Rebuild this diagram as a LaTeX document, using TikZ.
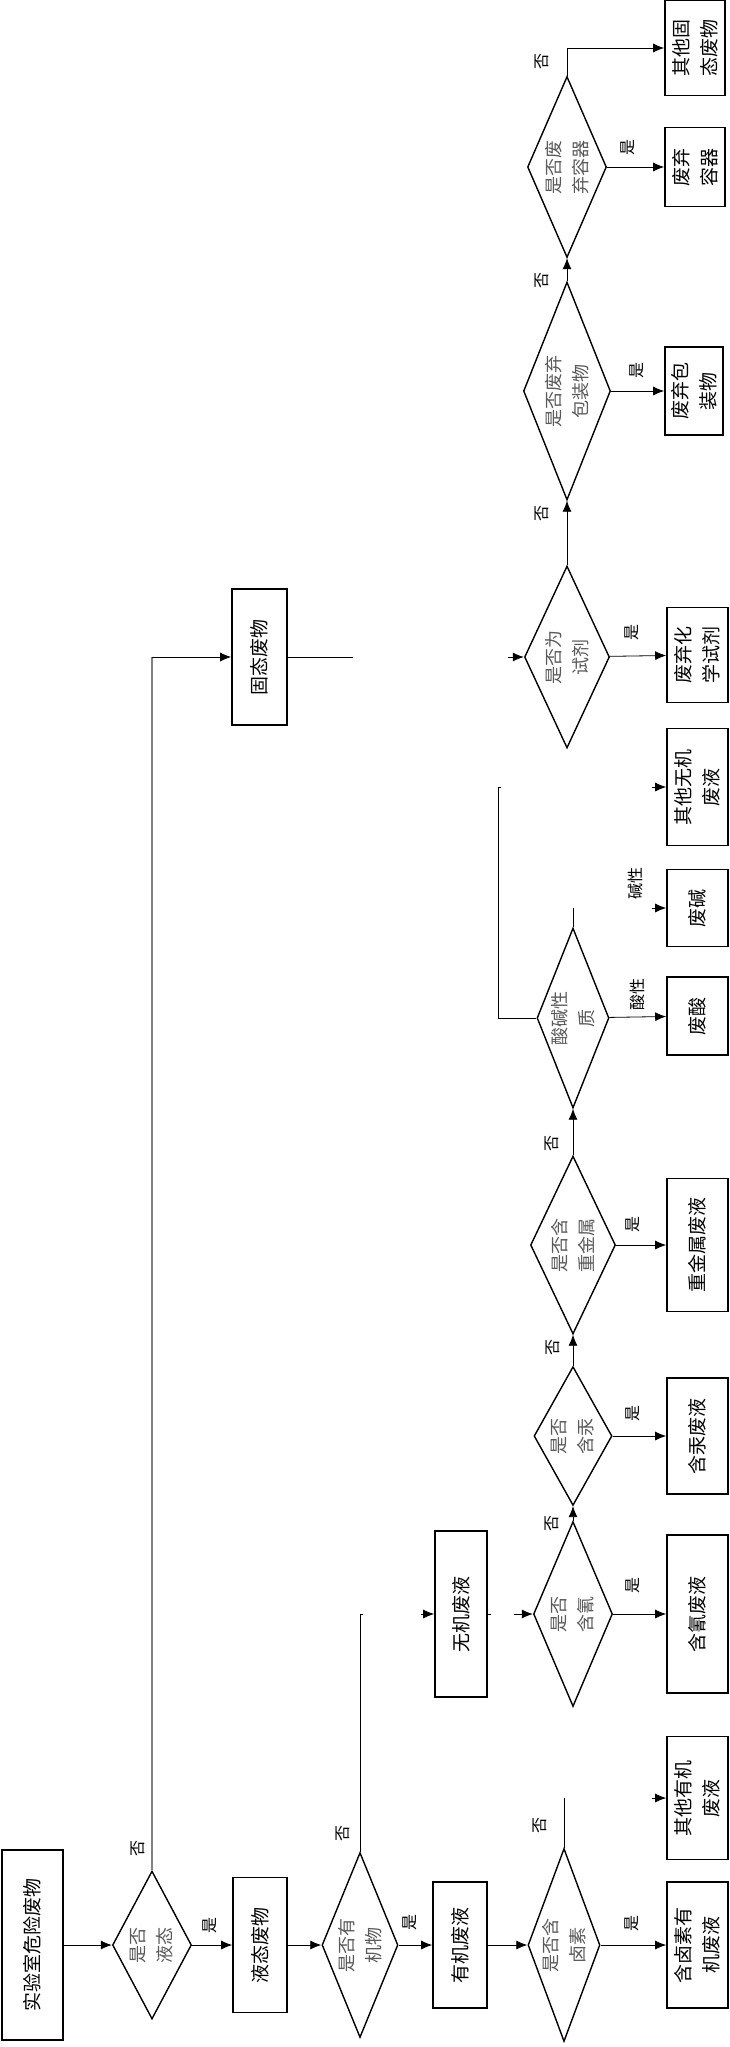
\documentclass[tikz,border=0pt]{standalone}
\usepackage{fontspec}
\newfontfamily\cjk{Noto Sans CJK SC}
\usetikzlibrary{calc}
\usetikzlibrary{shapes.geometric}
\usetikzlibrary{arrows.meta}
\tikzset{every picture/.style={/utils/exec={\cjk}}}
\tikzset{
  box/.style={draw, line width=1.6pt, rotate=90, inner sep=0pt, align=center,
    font=\cjk\fontsize{19}{28}\selectfont},
  decide/.style={draw, diamond, aspect=2.4, line width=1.4pt, rotate=90, inner sep=0pt,
    align=center, text=black!65, font=\cjk\fontsize{18}{27}\selectfont},
  flow/.style={-{Latex[length=11pt,width=9pt]}, line width=0.8pt},
  plain/.style={line width=0.8pt},
  yesno/.style={rotate=90, inner sep=0pt, font=\cjk\fontsize{16}{16}\selectfont}
}

\begin{document}
\begin{tikzpicture}[x=1pt, y=-1pt]
  \useasboundingbox (0,0) rectangle (730,2047);

  % start and liquid branch
  \node [box, minimum width=190pt, minimum height=61pt] (waste) at (32.5,1945) {实验室危险废物};
  \node [decide, minimum width=148pt, minimum height=79pt] (isliq) at (152,1945) {是否\\液态};
  \node [box, minimum width=135pt, minimum height=54pt] (liquid) at (260,1945) {液态废物};
  \node [decide, minimum width=185pt, minimum height=76pt] (isorg) at (360,1945) {是否有\\机物};
  \node [box, minimum width=126pt, minimum height=54pt] (organic) at (460,1945) {有机废液};
  \node [decide, minimum width=193pt, minimum height=72pt] (ishal) at (564,1945) {是否含\\卤素};
  \node [box, minimum width=126pt, minimum height=61pt] (halorg) at (697.5,1945) {含卤素有\\机废液};
  \node [box, minimum width=123pt, minimum height=61pt] (othorg) at (697.5,1798) {其他有机\\废液};

  % inorganic branch
  \node [box, minimum width=166pt, minimum height=52pt] (inorg) at (461,1614) {无机废液};
  \node [decide, minimum width=185pt, minimum height=79pt] (iscn) at (573,1614) {是否\\含氰};
  \node [box, minimum width=158pt, minimum height=61pt] (cyan) at (697.5,1614) {含氰废液};
  \node [decide, minimum width=138pt, minimum height=78pt] (ishg) at (573,1436) {是否\\含汞};
  \node [box, minimum width=116pt, minimum height=61pt] (mercury) at (697.5,1436) {含汞废液};
  \node [decide, minimum width=178pt, minimum height=85pt] (ishm) at (573,1245) {是否含\\重金属};
  \node [box, minimum width=133pt, minimum height=61pt] (heavy) at (697.5,1245) {重金属废液};
  \node [decide, minimum width=180pt, minimum height=72pt] (ph) at (573,1018) {酸碱性\\质};
  \node [box, minimum width=78pt, minimum height=61pt] (wacid) at (697.5,1016) {废酸};
  \node [box, minimum width=77pt, minimum height=61pt] (wbase) at (697.5,908) {废碱};
  \node [box, minimum width=117pt, minimum height=61pt] (othinorg) at (697.5,787) {其他无机\\废液};

  % solid branch
  \node [box, minimum width=136pt, minimum height=55pt] (solid) at (259.5,657) {固态废物};
  \node [decide, minimum width=182pt, minimum height=85pt] (ischem) at (567,657) {是否为\\试剂};
  \node [box, minimum width=95pt, minimum height=61pt] (chem) at (697.5,655) {废弃化\\学试剂};
  \node [decide, minimum width=218pt, minimum height=87pt] (ispack) at (567,391) {是否废弃\\包装物};
  \node [box, minimum width=88pt, minimum height=58pt] (pack) at (694,391) {废弃包\\装物};
  \node [decide, minimum width=181pt, minimum height=79pt] (iscont) at (567,167) {是否废\\弃容器};
  \node [box, minimum width=79pt, minimum height=60pt] (cont) at (695,167) {废弃\\容器};
  \node [box, minimum width=95pt, minimum height=60pt] (othsolid) at (695,48) {其他固\\态废物};

  % open ends of the broken connectors
  \coordinate (solidturn) at (152,657);
  \coordinate (orgturn) at (360,1614);
  \coordinate (inorgin) at (421,1614);
  \coordinate (halturn) at (564,1798);
  \coordinate (othorgin) at (652,1798);
  \coordinate (inorgout) at (491,1614);
  \coordinate (iscnin) at (514,1614);
  \coordinate (baseturn) at (573,908);
  \coordinate (basein) at (652,908);
  \coordinate (otherturn) at (498,787);
  \coordinate (otherin) at (652,787);
  \coordinate (solidout) at (353,657);
  \coordinate (ischemin) at (508,657);

  % liquid or solid
  \draw [flow] (waste) -- (isliq);
  \draw [flow] (isliq) -- (liquid);
  \draw [line width=1.2pt, black!50] (isliq) -- (solidturn);
  \draw [flow] (solidturn) -- (solid);

  % organic
  \draw [flow] (liquid) -- (isorg);
  \draw [flow] (isorg) -- (organic);
  \draw [plain] (isorg) -- (orgturn) -- ++(3,0);
  \draw [flow] (inorgin) -- (inorg);
  \draw [flow] (organic) -- (ishal);
  \draw [flow] (ishal) -- (halorg);
  \draw [plain] (ishal) -- (halturn);
  \draw [flow] (othorgin) -- (othorg);

  % inorganic
  \draw [plain] (inorg) -- (inorgout);
  \draw [flow] (iscnin) -- (iscn);
  \draw [flow] (iscn) -- (cyan);
  \draw [flow] (iscn) -- (ishg);
  \draw [flow] (ishg) -- (mercury);
  \draw [flow] (ishg) -- (ishm);
  \draw [flow] (ishm) -- (heavy);
  \draw [flow] (ishm) -- (ph);
  \draw [flow] (ph) -- (wacid);
  \draw [plain] (ph) -- (baseturn);
  \draw [flow] (basein) -- (wbase);
  \draw [plain] (ph.north) -| (otherturn) -- ++(3,0);
  \draw [flow] (otherin) -- (othinorg);

  % solid
  \draw [plain] (solid) -- (solidout);
  \draw [flow] (ischemin) -- (ischem);
  \draw [flow] (ischem) -- (chem);
  \draw [flow] (ischem) -- (ispack);
  \draw [flow] (ispack) -- (pack);
  \draw [flow] (ispack) -- (iscont);
  \draw [flow] (iscont) -- (cont);
  \draw [flow] (iscont) |- (othsolid);

  % yes / no labels
  \foreach \x/\y/\t [count=\i] in {138/1848/否, 210/1925/是, 343/1833/否, 410/1922/是,
      540/1825/否, 632/1923/是, 552/1523/否, 633/1585/是, 553/1347/否, 633/1413/是,
      552/1143/否, 633/1224/是, 637/994/酸性, 635/883/碱性, 542/513/否, 632/632/是,
      542/280/否, 637/370/是, 542/62/否, 628/147/是}
    \node [yesno] (lab\i) at (\x,\y) {\t};

\end{tikzpicture}
\end{document}
